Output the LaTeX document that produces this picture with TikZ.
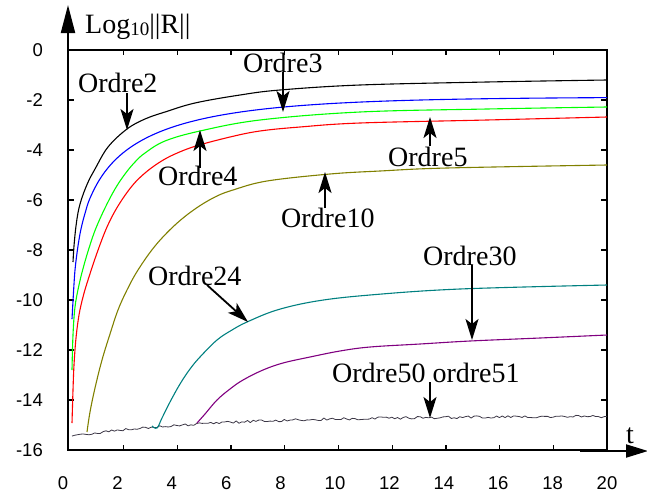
\documentclass[tikz,border=0pt]{standalone}
\usepackage{fontspec}
\setmainfont{Liberation Serif}
\newfontfamily\ticksfont{Liberation Sans}
\usetikzlibrary{arrows.meta}
\definecolor{cblue}{RGB}{0,0,255}
\definecolor{cgreen}{RGB}{0,255,0}
\definecolor{cred}{RGB}{255,0,0}
\definecolor{colive}{RGB}{128,128,0}
\definecolor{cteal}{RGB}{0,128,128}
\definecolor{cpurple}{RGB}{128,0,128}
\definecolor{cnoise}{RGB}{60,55,70}
\begin{document}
\begin{tikzpicture}[x=1pt,y=-1pt,
  curve/.style={line width=1.1pt, line join=round},
  ann/.style={line width=1.8pt, -{Stealth[length=21pt,width=13pt,inset=5pt]}},
  lbl/.style={font=\fontsize{28}{30}\selectfont, inner sep=0pt, anchor=base west},
  ticklbl/.style={font=\ticksfont\fontsize{18.5}{20}\selectfont, inner sep=0pt},
  frameline/.style={line width=1.3pt},
  axisline/.style={line width=2pt}]
\useasboundingbox (0,0) rectangle (647,493);

% frame
\draw[frameline] (68,50) rectangle (607,450);
\foreach \t in {2,4,...,18}{
  \draw[frameline] ({70+26.85*\t},50) -- ++(0,5);
  \draw[frameline] ({70+26.85*\t},450) -- ++(0,-5);
}
\foreach \k in {1,...,7}{
  \draw[frameline] (68,{50+50*\k}) -- ++(6,0);
  \draw[frameline] (607,{50+50*\k}) -- ++(-6,0);
}

% axes arrows
\coordinate (ya0) at (68,77);
\coordinate (ya1) at (68,5);
\draw[axisline, -{Triangle[length=28pt,width=14pt]}] (ya0) -- (ya1);
\coordinate (xa0) at (580,451);
\coordinate (xa1) at (648,451);
\draw[axisline, -{Triangle[length=22pt,width=13pt]}] (xa0) -- (xa1);

% tick labels
\foreach \v [count=\i from 0] in {0,-2,-4,-6,-8,-10,-12,-14,-16}{
  \node[ticklbl, anchor=east] (yl\i) at (43,{50+50*\i}) {\v};
}
\foreach \v in {0,2,4,...,20}{
  \node[ticklbl, anchor=center] (xl\v) at ({63+27.2*\v},483) {\v};
}

% noise curve (orders 50, 51)
\pgfmathsetseed{11}
\draw[cnoise, line width=0.8pt, line join=round] plot[domain=72:607, samples=190]
  (\x, {416+20*exp(-(\x-72)/140)+1.3*rand});

% curves
\draw[curve, black] plot[smooth, tension=0.6] coordinates {(73,262) (74,246) (76,226) (79,208) (84,192) (90,178) (95,169) (108,147) (127,129) (145,119) (165,112) (195,103) (240,95) (280,90) (360,85) (487,82) (607,80)};
\draw[curve, cblue] plot[domain=2:537, samples=200, smooth] ({70+\x}, {97+125*(-ln(1-exp(-\x/120))/ln(10))});
\draw[curve, cgreen] plot[smooth, tension=0.6] coordinates {(72,370) (73,335) (75,307) (79,285) (84,265) (90,245) (96,228) (105,208) (115,189) (125,174) (135,162) (145,153) (165,141) (200,131) (260,120) (360,112) (487,109) (607,107)};
\draw[curve, cred] plot[smooth, tension=0.6] coordinates {(72,423) (73,390) (74,365) (76,338) (79,315) (83,297) (88,280) (97,253) (107,227) (118,206) (132,186) (145,173) (160,162) (175,154) (196,146) (230,137) (260,131) (300,127) (360,123) (487,120) (607,117)};
\draw[curve, colive] plot[smooth, tension=0.6] coordinates {(87,432) (90,412) (95,388) (102,360) (110,334) (118,310) (127,290) (138,270) (155,246) (175,225) (195,209) (215,197) (233,190) (267,181) (330,174) (380,171) (447,168) (607,165)};
\draw[curve, cteal] plot[smooth, tension=0.6] coordinates {(152,426) (157,428) (162,418) (170,402) (180,384) (190,369) (200,357) (217,340) (232,330) (247,322) (277,310) (317,301) (370,295) (460,289) (607,285)};
\draw[curve, cpurple] plot[smooth, tension=0.6] coordinates {(197,423) (205,414) (217,400) (230,389) (243,380) (263,370) (283,363) (310,357) (340,351) (370,347) (420,344) (470,341) (540,338) (607,335)};

% labels
\node[lbl] (ylabel) at (85,33) {Log\raisebox{-0.2ex}{\fontsize{19}{20}\selectfont 10}||R||};
\node[lbl] (tlabel) at (626,443) {t};
\node[lbl] (o2) at (78,92) {Ordre2};
\node[lbl] (o3) at (243,72) {Ordre3};
\node[lbl] (o4) at (158,185) {Ordre4};
\node[lbl] (o5) at (388,166) {Ordre5};
\node[lbl] (o10) at (281,227) {Ordre10};
\node[lbl] (o24) at (148,285) {Ordre24};
\node[lbl] (o30) at (423,265) {Ordre30};
\node[lbl] (o50) at (332,382) {Ordre50 ordre51};

% annotation arrows
\coordinate (s2) at (127,93);  \coordinate (e2) at (127,130);
\coordinate (s3) at (283,72);  \coordinate (e3) at (283,112);
\coordinate (s4) at (200,168); \coordinate (e4) at (200,130);
\coordinate (s5) at (430,146); \coordinate (e5) at (430,117);
\coordinate (s10) at (325,208); \coordinate (e10) at (325,172);
\coordinate (s24) at (207,285); \coordinate (e24) at (248,322);
\coordinate (s30) at (472,265); \coordinate (e30) at (472,340);
\coordinate (s50) at (430,382); \coordinate (e50) at (430,418);
\foreach \n in {2,3,4,5,10,24,30,50}{
  \draw[ann] (s\n) -- (e\n);
}
\end{tikzpicture}
\end{document}
